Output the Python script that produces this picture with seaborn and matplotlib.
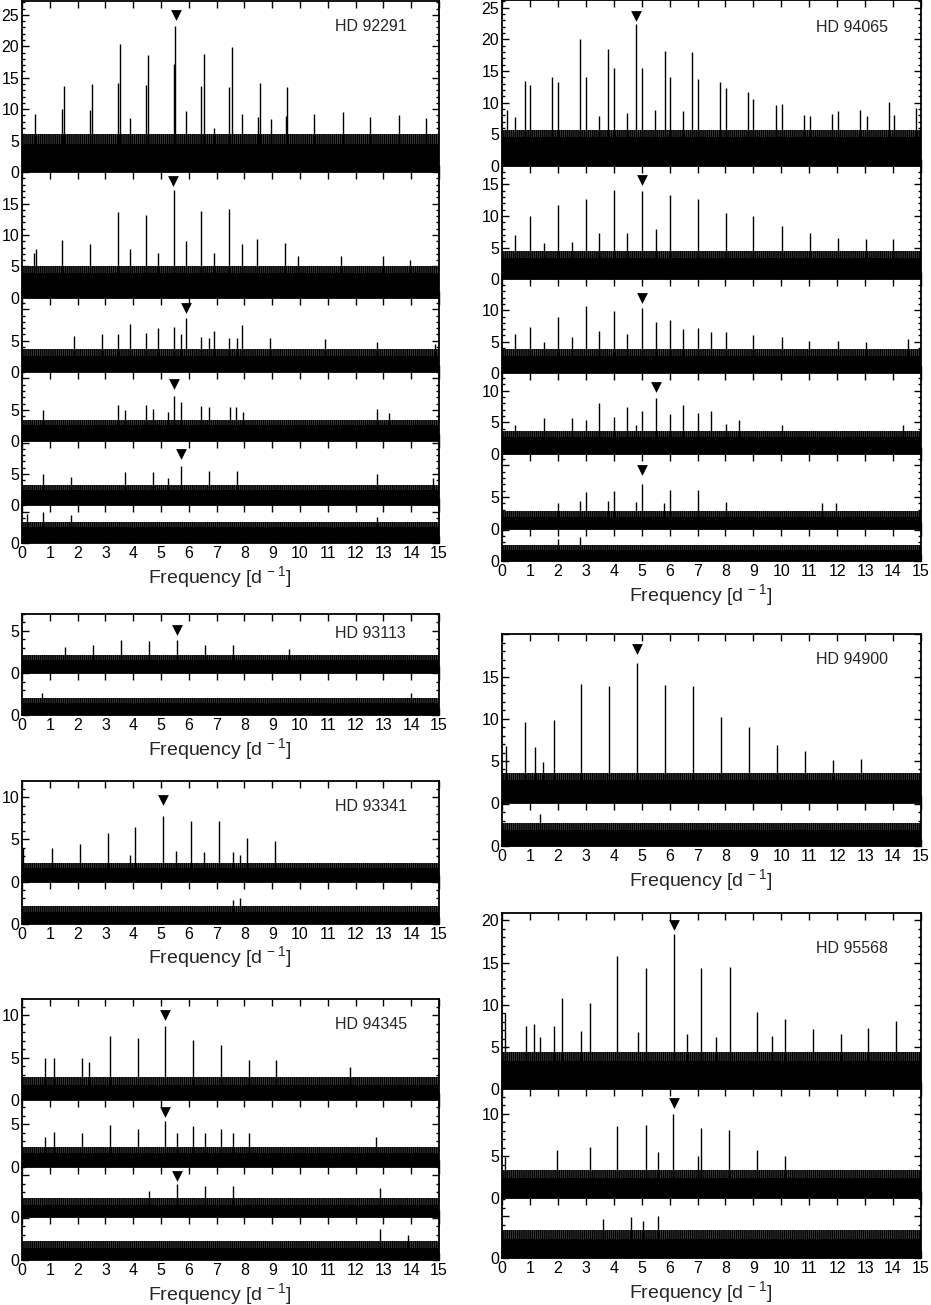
import matplotlib
matplotlib.use("Agg")
import matplotlib.pyplot as plt
import seaborn as sns
from matplotlib.ticker import FixedLocator, MultipleLocator

sns.set_style("ticks")
plt.rcParams['font.family'] = ['Liberation Sans', 'DejaVu Sans']
plt.rcParams['mathtext.fontset'] = 'custom'
plt.rcParams['mathtext.rm'] = 'Liberation Sans'
plt.rcParams['hatch.linewidth'] = 1.0

# ---------------- HD 92291 (6 prewhitening steps) ----------------
hd92291_top = [27.2, 20.0, 11.8, 11.0, 10.2, 6.0]
hd92291_floor = [4.4, 4.0, 2.5, 2.65, 2.5, 2.5]
hd92291_grass = [6.0, 5.1, 3.6, 3.45, 3.3, 3.3]
hd92291_ylab = [[0, 5, 10, 15, 20, 25], [0, 5, 10, 15], [0, 5], [0, 5], [0, 5], [0]]
hd92291_mark_f = [5.54, 5.43, 5.91, 5.48, 5.72]
hd92291_mark_a = [24.9, 18.6, 10.2, 9.1, 8.2]
hd92291_f1 = [0.46, 1.44, 1.50, 2.43, 2.52, 3.44, 3.51, 3.90, 4.46, 4.52, 5.46, 5.52, 5.90, 6.45,
              6.53, 6.89, 7.46, 7.54, 7.91, 8.48, 8.55, 8.96, 9.50, 9.54, 10.50, 11.53, 12.53, 13.55, 14.54]
hd92291_a1 = [9.2, 10.1, 13.65, 9.9, 14.0, 14.1, 20.3, 8.6, 13.8, 18.6, 17.2, 23.3, 9.7, 13.65,
              18.8, 7.0, 13.5, 19.9, 9.2, 8.8, 14.1, 8.4, 8.9, 13.5, 9.3, 9.5, 8.7, 9.0, 8.6]
hd92291_f2 = [0.42, 0.52, 1.44, 2.43, 3.44, 3.90, 4.46, 4.89, 5.46, 5.90, 6.45, 6.89, 7.46, 7.91,
              8.45, 9.47, 9.93, 11.47, 12.97, 13.97]
hd92291_a2 = [7.1, 7.7, 9.2, 8.6, 13.7, 7.8, 13.2, 7.1, 17.2, 9.0, 13.8, 7.1, 14.2, 8.6,
              9.4, 8.8, 6.7, 6.6, 6.7, 6.0]
hd92291_f3 = [1.88, 2.88, 3.44, 3.87, 4.46, 4.89, 5.46, 5.72, 5.90, 6.45, 6.71, 6.89, 7.46, 7.73,
              7.91, 8.91, 10.90, 12.77, 14.87]
hd92291_a3 = [5.8, 6.0, 6.1, 7.7, 6.25, 7.05, 7.2, 6.1, 8.6, 5.6, 5.5, 6.5, 5.35, 5.5,
              7.5, 5.5, 5.2, 4.8, 4.5]
hd92291_f4 = [0.76, 3.45, 3.69, 4.46, 4.70, 5.25, 5.46, 5.72, 6.45, 6.71, 7.47, 7.71, 7.94, 12.77, 13.19]
hd92291_a4 = [5.0, 5.7, 4.9, 5.7, 5.1, 4.6, 7.15, 6.2, 5.6, 5.4, 5.4, 5.4, 4.6, 5.2, 4.5]
hd92291_f5 = [0.76, 1.77, 3.69, 4.71, 5.25, 5.72, 6.71, 7.73, 12.77, 14.80]
hd92291_a5 = [5.0, 4.45, 5.25, 5.3, 4.35, 6.35, 5.4, 5.5, 5.0, 4.35]
hd92291_f6 = [0.18, 0.76, 1.77, 12.77]
hd92291_a6 = [4.6, 4.9, 4.5, 4.2]

# ---------------- HD 94065 (6 steps) ----------------
hd94065_top = [26.2, 17.9, 14.9, 12.7, 11.8, 5.2]
hd94065_floor = [4.5, 3.4, 2.8, 2.6, 1.85, 1.75]
hd94065_grass = [5.6, 4.5, 3.85, 3.6, 2.8, 2.6]
hd94065_ylab = [[0, 5, 10, 15, 20, 25], [0, 5, 10, 15], [0, 5, 10], [0, 5, 10], [0, 5], [0]]
hd94065_mark_f = [4.81, 5.02, 5.02, 5.50, 5.02]
hd94065_mark_a = [23.7, 15.7, 12.0, 10.6, 9.3]
hd94065_f1 = [0.19, 0.48, 0.81, 1.02, 1.80, 2.00, 2.81, 3.01, 3.49, 3.80, 4.00, 4.48, 4.80, 5.00,
              5.48, 5.82, 6.01, 6.49, 6.81, 7.01, 7.80, 8.02, 8.80, 9.00, 9.80, 10.01, 10.81, 11.03,
              11.80, 12.02, 12.82, 13.06, 13.84, 14.04, 14.83]
hd94065_a1 = [8.8, 7.7, 13.4, 12.7, 14.05, 13.3, 20.0, 14.05, 7.8, 18.5, 15.4, 8.3, 22.4, 15.5,
              8.9, 18.2, 14.1, 8.7, 18.0, 13.7, 13.2, 12.3, 11.6, 10.6, 9.6, 9.8, 8.1, 7.9,
              8.2, 8.6, 8.8, 7.9, 10.1, 8.0, 9.2]
hd94065_f2 = [0.48, 1.02, 1.49, 2.00, 2.49, 3.01, 3.49, 4.00, 4.48, 5.02, 5.50, 6.01, 7.01, 8.02,
              9.00, 10.04, 11.03, 12.02, 13.03, 14.01]
hd94065_a2 = [7.0, 10.0, 5.7, 11.7, 5.9, 12.6, 7.3, 14.1, 7.3, 13.9, 7.9, 13.3, 12.6, 10.4,
              10.0, 8.4, 7.3, 6.5, 6.3, 6.3]
hd94065_f3 = [0.48, 1.02, 1.49, 2.00, 2.49, 3.01, 3.49, 4.00, 4.48, 5.02, 5.50, 6.01, 6.49, 7.01,
              7.49, 8.02, 9.00, 10.01, 11.00, 12.02, 13.03, 14.55]
hd94065_a3 = [6.2, 7.4, 5.0, 8.9, 5.8, 10.6, 6.7, 9.8, 6.3, 10.4, 8.2, 8.4, 7.0, 7.2,
              6.5, 6.6, 6.1, 5.7, 5.2, 5.2, 5.05, 5.4]
hd94065_f4 = [0.48, 1.49, 2.49, 3.01, 3.49, 4.00, 4.48, 4.81, 5.02, 5.50, 6.01, 6.49, 7.01, 7.49,
              8.02, 8.50, 10.01, 14.37]
hd94065_a4 = [4.6, 5.6, 5.6, 5.3, 8.0, 5.8, 7.4, 4.6, 6.8, 8.8, 6.3, 7.7, 6.4, 6.7,
              4.7, 5.3, 4.6, 4.5]
hd94065_f5 = [2.00, 2.81, 3.01, 3.80, 4.00, 4.81, 5.02, 5.81, 6.01, 7.01, 8.02, 11.45, 11.96]
hd94065_a5 = [4.05, 4.3, 5.7, 4.3, 5.95, 4.2, 7.0, 4.05, 6.05, 6.15, 4.2, 4.05, 4.05]
hd94065_f6 = [2.00, 2.81]
hd94065_a6 = [3.6, 3.85]

# ---------------- HD 93113 (2 steps) ----------------
hd93113_top = [7.0, 5.0]
hd93113_floor = [1.6, 1.45]
hd93113_grass = [2.2, 2.05]
hd93113_ylab = [[0, 5], [0]]
hd93113_mark_f = [5.58]
hd93113_mark_a = [5.05]
hd93113_f1 = [1.56, 2.55, 3.56, 4.57, 5.58, 6.57, 7.58, 9.60]
hd93113_a1 = [3.1, 3.35, 3.9, 3.8, 3.9, 3.3, 3.35, 2.9]
hd93113_f2 = [0.72, 14.00]
hd93113_a2 = [2.7, 2.7]

# ---------------- HD 93341 (2 steps) ----------------
hd93341_top = [11.9, 5.0]
hd93341_floor = [1.6, 1.4]
hd93341_grass = [2.25, 2.05]
hd93341_ylab = [[0, 5, 10], [0]]
hd93341_mark_f = [5.07]
hd93341_mark_a = [9.7]
hd93341_f1 = [0.04, 1.08, 2.07, 3.08, 3.87, 4.08, 5.07, 5.55, 6.08, 6.56, 7.10, 7.58, 7.83, 8.09, 9.11]
hd93341_a1 = [3.95, 3.95, 4.45, 5.8, 3.2, 6.4, 7.8, 3.65, 7.2, 3.5, 7.2, 3.55, 3.2, 5.1, 4.75]
hd93341_f2 = [7.58, 7.83]
hd93341_a2 = [2.85, 3.0]

# ---------------- HD 94345 (4 steps) ----------------
hd94345_top = [11.9, 7.9, 6.0, 5.05]
hd94345_floor = [1.8, 1.6, 1.45, 1.4]
hd94345_grass = [2.7, 2.35, 2.25, 2.3]
hd94345_ylab = [[0, 5, 10], [0, 5], [0], [0]]
hd94345_mark_f = [5.16, 5.16, 5.58]
hd94345_mark_a = [10.05, 6.5, 4.9]
hd94345_f1 = [0.82, 1.16, 2.16, 2.40, 3.15, 4.16, 5.16, 6.15, 7.16, 8.15, 9.15, 11.79]
hd94345_a1 = [5.0, 4.9, 4.9, 4.5, 7.6, 7.3, 8.7, 7.1, 6.5, 4.75, 4.75, 3.9]
hd94345_f2 = [0.82, 1.16, 2.16, 3.15, 4.16, 5.16, 5.58, 6.15, 6.57, 7.16, 7.58, 8.15, 12.75]
hd94345_a2 = [3.5, 4.15, 3.95, 4.9, 4.4, 5.4, 4.0, 4.8, 3.95, 4.4, 3.95, 4.0, 3.55]
hd94345_f3 = [4.56, 5.58, 6.57, 7.58, 12.89]
hd94345_a3 = [3.15, 3.9, 3.75, 3.75, 3.45]
hd94345_f4 = [12.89, 13.90]
hd94345_a4 = [3.65, 3.0]

# ---------------- HD 94900 (2 steps) ----------------
hd94900_top = [20.0, 5.05]
hd94900_floor = [2.75, 1.9]
hd94900_grass = [3.6, 2.75]
hd94900_ylab = [[0, 5, 10, 15], [0]]
hd94900_mark_f = [4.84]
hd94900_mark_a = [18.3]
hd94900_f1 = [0.16, 0.84, 1.17, 1.45, 1.85, 2.84, 3.84, 4.84, 5.84, 6.85, 7.84, 8.84, 9.83,
              10.85, 11.84, 12.84]
hd94900_a1 = [6.8, 9.6, 6.7, 4.9, 9.9, 14.1, 13.9, 16.6, 14.0, 13.9, 10.2, 9.0, 6.9,
              6.2, 5.1, 5.2]
hd94900_f2 = [1.37]
hd94900_a2 = [3.75]

# ---------------- HD 95568 (3 steps) ----------------
hd95568_top = [20.9, 12.9, 7.1]
hd95568_floor = [3.3, 2.35, 2.3]
hd95568_grass = [4.45, 3.35, 3.3]
hd95568_ylab = [[0, 5, 10, 15, 20], [0, 5, 10], [0]]
hd95568_mark_f = [6.15, 6.14]
hd95568_mark_a = [19.45, 11.25]
hd95568_f1 = [0.12, 0.85, 1.15, 1.35, 1.85, 2.15, 2.84, 3.14, 4.13, 4.87, 5.15, 6.15, 6.63, 7.14,
              7.65, 8.15, 9.14, 9.65, 10.14, 11.15, 12.13, 13.09, 14.10]
hd95568_a1 = [9.0, 7.5, 7.7, 6.2, 7.55, 10.8, 6.9, 10.2, 15.8, 6.75, 14.4, 18.35, 6.55, 14.3,
              6.2, 14.5, 9.1, 6.3, 8.3, 7.1, 6.6, 7.2, 8.1]
hd95568_f2 = [0.12, 1.97, 3.14, 4.13, 5.15, 5.59, 6.13, 7.03, 7.14, 8.14, 9.14, 10.14]
hd95568_a2 = [4.9, 5.7, 6.1, 8.55, 8.7, 5.5, 9.95, 5.0, 8.3, 8.1, 5.7, 5.0]
hd95568_f3 = [3.60, 4.61, 5.05, 5.59]
hd95568_a3 = [4.65, 4.85, 4.4, 5.05]

FIG_W, FIG_H = 931, 1305
fig = plt.figure(figsize=(FIG_W / 100, FIG_H / 100), dpi=100)


def draw_panel(ax, top, floor, grass, freqs, amps, ylab, mark=None):
    # solid noise floor plus a textured "grass" band above it
    ax.fill_between([0, 15], 0, floor, color='black', lw=0)
    ax.fill_between([0, 15], floor, grass, facecolor='0.3', edgecolor='black',
                    hatch='|' * 8, lw=0)
    ax.vlines(freqs, 0, amps, color='black', lw=1.0)
    if mark is not None:
        sns.scatterplot(x=[mark[0]], y=[mark[1]], marker='v', color='black', s=60,
                        linewidth=0, legend=False, ax=ax)
    ax.set_xlim(0, 15)
    ax.set_ylim(0, top)
    ax.xaxis.set_major_locator(MultipleLocator(1))
    majors = list(range(0, int(top) + 1, 5))
    ax.yaxis.set_major_locator(FixedLocator(majors))
    ax.set_yticklabels([str(v) if v in ylab else '' for v in majors])
    ax.yaxis.set_minor_locator(MultipleLocator(1))
    ax.tick_params(which='both', direction='in', top=True, right=True, width=1.0,
                   labelsize=11.5, pad=2, colors='black')
    ax.tick_params(which='major', length=5)
    ax.tick_params(which='minor', length=2.5)
    for s in ax.spines.values():
        s.set_linewidth(1.3)
        s.set_color('black')
    ax.set_xlabel('')
    ax.set_ylabel('')


def draw_group(x0, y0, ppu, tops, floors, grasses, freqs, amps, ylabs, mark_f, mark_a,
               name, name_y):
    width = 417 if x0 < 400 else 419
    y = y0
    axes = []
    for i, top in enumerate(tops):
        h = top * ppu
        ax = fig.add_axes([x0 / FIG_W, 1 - (y + h) / FIG_H, width / FIG_W, h / FIG_H])
        mark = (mark_f[i], mark_a[i]) if i < len(mark_f) else None
        draw_panel(ax, top, floors[i], grasses[i], freqs[i], amps[i], ylabs[i], mark)
        if i < len(tops) - 1:
            ax.tick_params(labelbottom=False)
        axes.append(ax)
        y += h
    axes[0].text(0.75, name_y, name, transform=axes[0].transAxes, fontsize=11.5,
                 ha='left', va='center')
    last = axes[-1]
    last.set_xlabel('Frequency [d$^{\\,-1}$]', fontsize=14)
    last.xaxis.set_label_coords(0.475, -21 / (tops[-1] * ppu))
    return axes


draw_group(22, 1, 6.29, hd92291_top, hd92291_floor, hd92291_grass,
           [hd92291_f1, hd92291_f2, hd92291_f3, hd92291_f4, hd92291_f5, hd92291_f6],
           [hd92291_a1, hd92291_a2, hd92291_a3, hd92291_a4, hd92291_a5, hd92291_a6],
           hd92291_ylab, hd92291_mark_f, hd92291_mark_a, 'HD 92291', 0.85)
draw_group(502, 0, 6.33, hd94065_top, hd94065_floor, hd94065_grass,
           [hd94065_f1, hd94065_f2, hd94065_f3, hd94065_f4, hd94065_f5, hd94065_f6],
           [hd94065_a1, hd94065_a2, hd94065_a3, hd94065_a4, hd94065_a5, hd94065_a6],
           hd94065_ylab, hd94065_mark_f, hd94065_mark_a, 'HD 94065', 0.836)
draw_group(22, 614, 8.45, hd93113_top, hd93113_floor, hd93113_grass,
           [hd93113_f1, hd93113_f2], [hd93113_a1, hd93113_a2], hd93113_ylab,
           hd93113_mark_f, hd93113_mark_a, 'HD 93113', 0.674)
draw_group(22, 781, 8.45, hd93341_top, hd93341_floor, hd93341_grass,
           [hd93341_f1, hd93341_f2], [hd93341_a1, hd93341_a2], hd93341_ylab,
           hd93341_mark_f, hd93341_mark_a, 'HD 93341', 0.745)
draw_group(22, 999.3, 8.45, hd94345_top, hd94345_floor, hd94345_grass,
           [hd94345_f1, hd94345_f2, hd94345_f3, hd94345_f4],
           [hd94345_a1, hd94345_a2, hd94345_a3, hd94345_a4], hd94345_ylab,
           hd94345_mark_f, hd94345_mark_a, 'HD 94345', 0.745)
draw_group(502, 634.3, 8.45, hd94900_top, hd94900_floor, hd94900_grass,
           [hd94900_f1, hd94900_f2], [hd94900_a1, hd94900_a2], hd94900_ylab,
           hd94900_mark_f, hd94900_mark_a, 'HD 94900', 0.848)
draw_group(502, 912.7, 8.45, hd95568_top, hd95568_floor, hd95568_grass,
           [hd95568_f1, hd95568_f2, hd95568_f3],
           [hd95568_a1, hd95568_a2, hd95568_a3], hd95568_ylab,
           hd95568_mark_f, hd95568_mark_a, 'HD 95568', 0.80)

fig.savefig('out.png', dpi=100)
